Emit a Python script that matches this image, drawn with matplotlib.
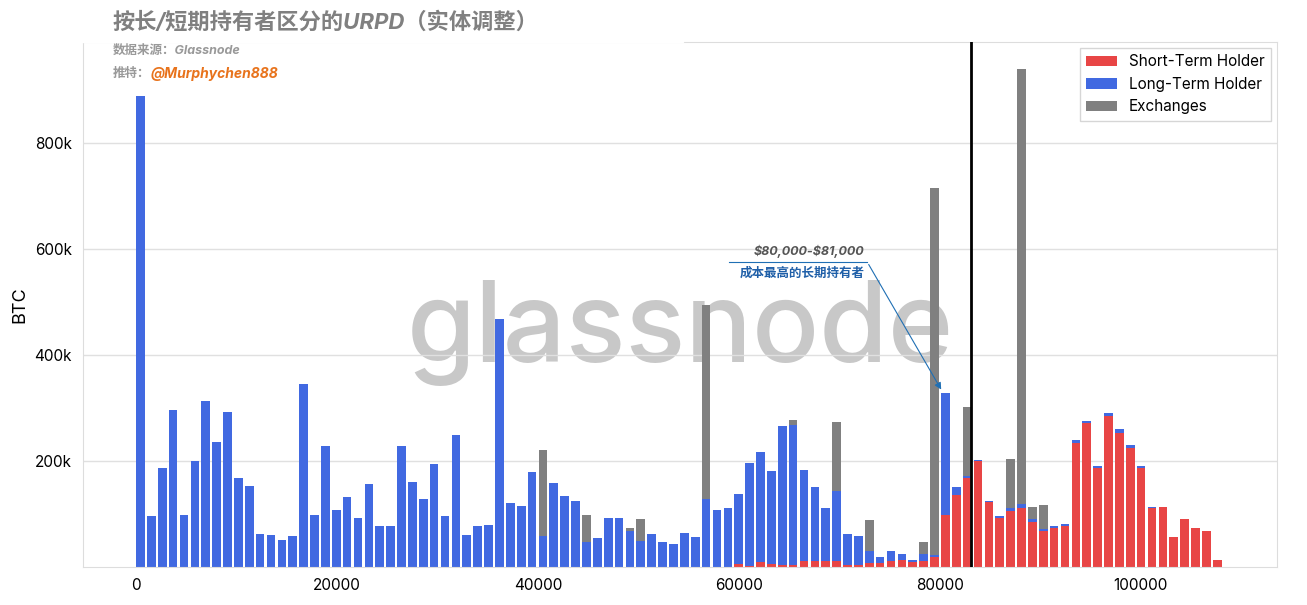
import numpy as np
import matplotlib.pyplot as plt
from matplotlib.ticker import FuncFormatter

plt.rcParams['font.family'] = ['Inter', 'Noto Sans CJK SC', 'DejaVu Sans']

# bin index -> price bucket (~1083 USD wide), values in thousands of BTC
bin_step = 1083
sth = [0] * 55 + [5, 2, 10, 5, 3, 3, 11, 12, 12, 12, 3, 3, 8, 8, 12, 13, 10, 11, 19, 99,
                  135, 167, 199, 122, 93, 106, 111, 84, 68, 74, 78, 234, 272, 187, 285, 252,
                  224, 187, 112, 113, 57, 91, 73, 68, 13]
lth = [888, 97, 187, 296, 98, 200, 313, 236, 293, 167, 152, 62, 61, 50, 59, 345, 99, 229,
       108, 132, 93, 157, 77, 77, 229, 161, 129, 194, 97, 248, 60, 78, 80, 468, 120, 115,
       180, 59, 158, 133, 124, 48, 55, 92, 92, 67, 49, 63, 47, 44, 65, 56, 129, 107, 112,
       133, 195, 207, 176, 262, 265, 172, 138, 100, 132, 60, 56, 22, 10, 18, 11, 4, 14, 4,
       230, 15, 4, 2, 3, 3, 5, 7, 7, 4, 3, 3, 6, 4, 4, 6, 9, 7, 4, 2, 0, 0, 0, 0, 0, 0]
exchanges = [0] * 100
for idx, val in {37: 161, 41: 50, 45: 7, 46: 41, 52: 365, 60: 10, 64: 129, 67: 58, 72: 22,
                 73: 691, 76: 130, 80: 93, 81: 822, 82: 23, 83: 44}.items():
    exchanges[idx] = val

current_price = 83100

x = np.arange(len(lth)) * bin_step
sth = np.array(sth) * 1000
lth = np.array(lth) * 1000
exchanges = np.array(exchanges) * 1000

fig = plt.figure(figsize=(13.07, 6.05), dpi=100)
ax = fig.add_axes([83 / 1307, 38 / 605, 1194 / 1307, 525 / 605])

ax.text(0.5, 0.445, "glassnode", transform=ax.transAxes, ha="center", va="center",
        fontsize=80, color="#c8c8c8", zorder=0, family="Inter", weight="medium")

w = 860
ax.bar(x, sth, w, align="edge", color="#e84545", label="Short-Term Holder", zorder=2)
ax.bar(x, lth, w, bottom=sth, align="edge", color="#4169e1", label="Long-Term Holder", zorder=2)
ax.bar(x, exchanges, w, bottom=sth + lth, align="edge", color="#808080", label="Exchanges", zorder=2)

ax.axvline(current_price, color="black", lw=2, zorder=3)

ax.set_xlim(-5300, 113600)
ax.set_ylim(0, 990000)
ax.set_yticks([200000, 400000, 600000, 800000])
ax.yaxis.set_major_formatter(FuncFormatter(lambda v, p: f"{int(v / 1000)}k"))
ax.set_xticks([0, 20000, 40000, 60000, 80000, 100000])
ax.grid(axis="y", color="#e0e0e0", lw=1, zorder=1)
ax.set_axisbelow(True)
for s in ax.spines.values():
    s.set_color("#dddddd")
ax.tick_params(length=0, labelsize=11, pad=8)
ax.set_ylabel("BTC", fontsize=13)

ax.legend(loc="upper right", fontsize=11, frameon=True, edgecolor="#cccccc",
          fancybox=False, borderaxespad=0.4)

# annotation
ax.annotate("", xy=(80300, 330000), xytext=(72800, 575000),
            arrowprops=dict(arrowstyle="-|>", color="#1f6fb4", lw=0.8), zorder=4)
ax.plot([59000, 72800], [575000, 575000], color="#1f6fb4", lw=0.8, zorder=4)
ax.text(72500, 596000, r"\$80,000-\$81,000", ha="right", va="center", fontsize=9,
        style="italic", weight="bold", color="#555555")
ax.text(72500, 553000, "成本最高的长期持有者", ha="right", va="center", fontsize=9,
        style="italic", weight="bold", color="#1f5fa8")

# header
fig.patches.append(plt.Rectangle((0, 1 - 42 / 605), 683 / 1307, 42 / 605,
                                 transform=fig.transFigure, color="white", zorder=5))
fig.text(113 / 1307, 1 - 22 / 605, "按长/短期持有者区分的URPD（实体调整）", fontsize=16,
         style="italic", weight="bold", color="#808080", va="center", zorder=6)
fig.text(113 / 1307, 1 - 51 / 605, "数据来源：Glassnode", fontsize=9,
         style="italic", weight="bold", color="#999999", va="center")
fig.text(113 / 1307, 1 - 74 / 605, "推特：", fontsize=9,
         style="italic", weight="bold", color="#999999", va="center")
fig.text(150 / 1307, 1 - 74 / 605, "@Murphychen888", fontsize=10,
         style="italic", weight="bold", color="#e8731c", va="center")

fig.savefig("out.png", dpi=100)
